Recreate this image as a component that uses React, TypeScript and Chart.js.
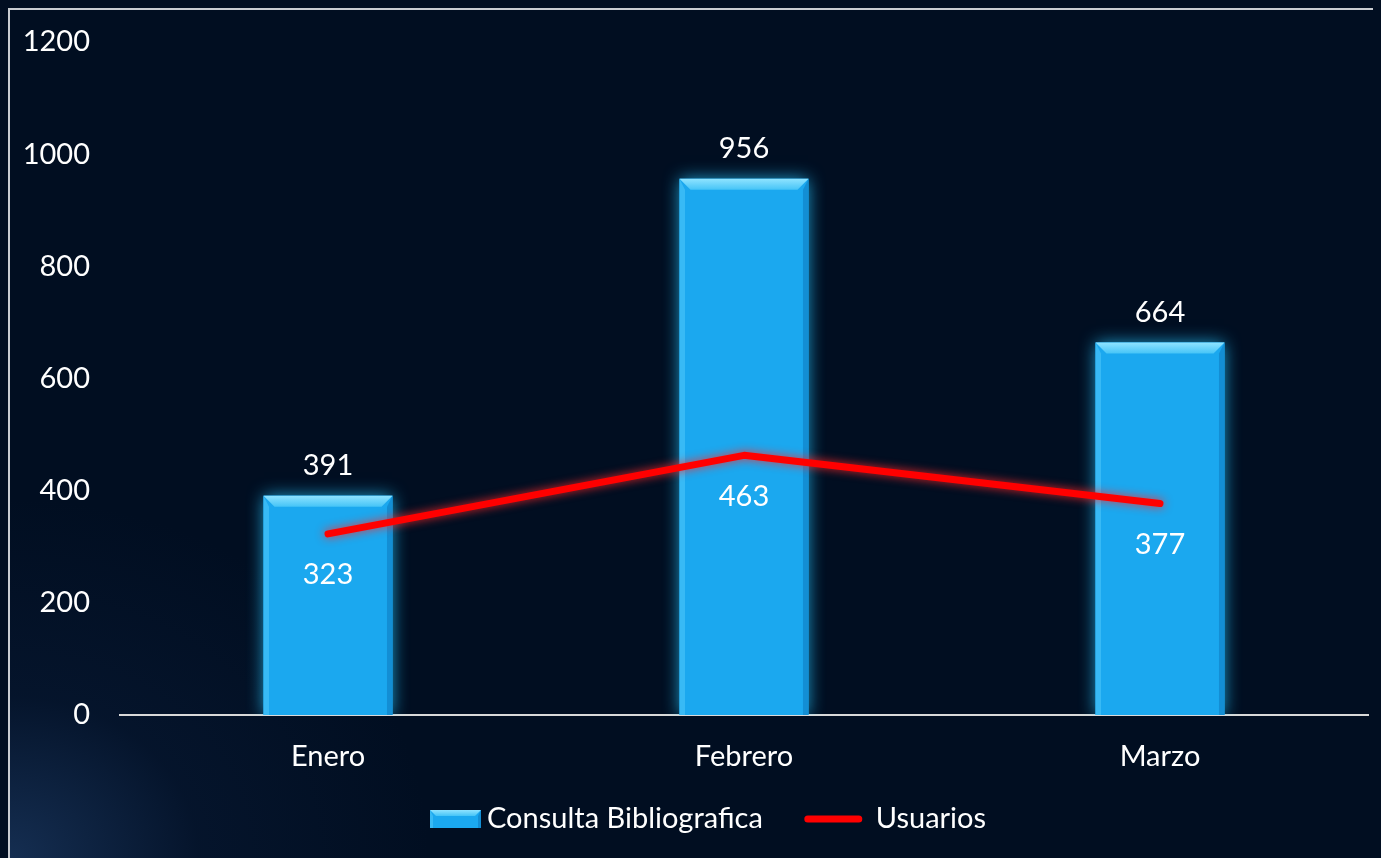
import React, { useEffect, useRef } from "react";
import { Chart, registerables } from "chart.js";

Chart.register(...registerables);

const categories: string[] = ["Enero", "Febrero", "Marzo"];
const consultaValues: number[] = [391, 956, 664];
const usuariosValues: number[] = [323, 463, 377];
const yTicks: number[] = [0, 200, 400, 600, 800, 1000, 1200];
const legendLabels: string[] = ["Consulta Bibliografica", "Usuarios"];

const BAR_COLOR = "#1ba8ef";
const LINE_COLOR = "#ff0000";
const FONT = "Lato";
const FSIZE = 29;

function drawBevelBar(ctx: CanvasRenderingContext2D, left: number, top: number, w: number, h: number, b: number) {
  const right = left + w;
  const bottom = top + h;
  ctx.fillStyle = BAR_COLOR;
  ctx.fillRect(left, top, w, h);
  ctx.beginPath();
  ctx.moveTo(left, top);
  ctx.lineTo(right, top);
  ctx.lineTo(right - b, top + b);
  ctx.lineTo(left + b, top + b);
  ctx.closePath();
  const g = ctx.createLinearGradient(0, top, 0, top + b);
  g.addColorStop(0, "#8fe3ff");
  g.addColorStop(1, "#45c4f7");
  ctx.fillStyle = g;
  ctx.fill();
  ctx.beginPath();
  ctx.moveTo(left, top);
  ctx.lineTo(left + b * 0.5, top + b);
  ctx.lineTo(left + b * 0.5, bottom);
  ctx.lineTo(left, bottom);
  ctx.closePath();
  ctx.fillStyle = "rgba(80,200,250,0.55)";
  ctx.fill();
  ctx.beginPath();
  ctx.moveTo(right, top);
  ctx.lineTo(right - b * 0.5, top + b);
  ctx.lineTo(right - b * 0.5, bottom);
  ctx.lineTo(right, bottom);
  ctx.closePath();
  ctx.fillStyle = "rgba(10,110,180,0.45)";
  ctx.fill();
}

const effectsPlugin = {
  id: "effects",
  beforeDatasetDraw(chart: any, args: any) {
    const ctx = chart.ctx;
    ctx.save();
    if (args.index === 0) {
      ctx.shadowColor = "rgba(40,200,255,0.8)";
      ctx.shadowBlur = 16;
    } else {
      ctx.shadowColor = "rgba(255,40,40,0.9)";
      ctx.shadowBlur = 10;
    }
  },
  afterDatasetDraw(chart: any, args: any) {
    const ctx = chart.ctx;
    ctx.restore();
    if (args.index === 0) {
      const meta = chart.getDatasetMeta(0);
      meta.data.forEach((bar: any) => {
        const w = bar.width;
        const left = bar.x - w / 2;
        const top = Math.min(bar.y, bar.base);
        const h = Math.abs(bar.base - bar.y);
        drawBevelBar(ctx, left, top, w, h, 11);
      });
    }
  },
  afterDatasetsDraw(chart: any) {
    const ctx = chart.ctx;
    ctx.save();
    ctx.fillStyle = "#ffffff";
    ctx.font = `${FSIZE}px ${FONT}`;
    ctx.textAlign = "center";
    ctx.textBaseline = "middle";
    const barMeta = chart.getDatasetMeta(0);
    barMeta.data.forEach((bar: any, i: number) => {
      ctx.fillText(String(consultaValues[i]), bar.x, bar.y - 30);
    });
    const lineMeta = chart.getDatasetMeta(1);
    lineMeta.data.forEach((pt: any, i: number) => {
      ctx.fillText(String(usuariosValues[i]), pt.x, pt.y + 41);
    });
    ctx.restore();
  },
  afterDraw(chart: any) {
    const ctx = chart.ctx;
    ctx.save();
    ctx.font = `${FSIZE}px ${FONT}`;
    ctx.fillStyle = "#ffffff";
    ctx.textAlign = "left";
    ctx.textBaseline = "middle";
    const cy = 809;
    let x = 420;
    drawBevelBar(ctx, x, cy - 9, 51, 18, 6);
    x += 57;
    ctx.fillStyle = "#ffffff";
    ctx.fillText(legendLabels[0], x, cy);
    x += ctx.measureText(legendLabels[0]).width + 42;
    ctx.strokeStyle = LINE_COLOR;
    ctx.lineWidth = 7;
    ctx.lineCap = "round";
    ctx.beginPath();
    ctx.moveTo(x + 3, cy);
    ctx.lineTo(x + 54, cy);
    ctx.stroke();
    x += 71;
    ctx.fillText(legendLabels[1], x, cy);
    ctx.restore();
  },
};

export default function App() {
  const canvasRef = useRef<HTMLCanvasElement | null>(null);

  useEffect(() => {
    document.body.style.background = "#010e21";
    const canvas = canvasRef.current;
    if (!canvas) return;
    const chart = new Chart(canvas, {
      type: "bar",
      data: {
        labels: categories,
        datasets: [
          {
            type: "bar",
            label: legendLabels[0],
            data: consultaValues,
            backgroundColor: BAR_COLOR,
            borderWidth: 0,
            barPercentage: 0.31,
            categoryPercentage: 1,
            order: 2,
          },
          {
            type: "line",
            label: legendLabels[1],
            data: usuariosValues,
            borderColor: LINE_COLOR,
            backgroundColor: LINE_COLOR,
            borderWidth: 7,
            borderCapStyle: "round",
            borderJoinStyle: "round",
            pointRadius: 0,
            tension: 0,
            fill: false,
            order: 1,
          },
        ],
      } as any,
      options: {
        animation: false,
        responsive: false,
        maintainAspectRatio: false,
        layout: { padding: { top: 32, right: 13, bottom: 63, left: 0 } },
        plugins: {
          tooltip: { enabled: false },
          legend: { display: false },
        },
        scales: {
          x: {
            grid: { display: false, drawTicks: false },
            border: { display: true, color: "#d9d9d9", width: 2 },
            ticks: { color: "#ffffff", font: { family: FONT, size: FSIZE }, padding: 24 },
            afterFit: (scale: any) => {
              scale.height = 80;
            },
          },
          y: {
            min: 0,
            max: 1200,
            grid: { display: false, drawTicks: false },
            border: { display: false },
            afterBuildTicks: (scale: any) => {
              scale.ticks = yTicks.map((v) => ({ value: v }));
            },
            ticks: {
              color: "#ffffff",
              font: { family: FONT, size: FSIZE },
              padding: 30,
              callback: (v: any) => String(v),
            },
            afterFit: (scale: any) => {
              scale.width = 110;
              scale.paddingTop = 0;
              scale.paddingBottom = 0;
            },
          },
        },
      } as any,
      plugins: [effectsPlugin],
    });
    return () => chart.destroy();
  }, []);

  return (
    <div
      style={{
        borderTop: "2px solid #c9ccd1",
        borderLeft: "2px solid #c9ccd1",
        width: 1371,
        height: 848,
        background:
          "radial-gradient(ellipse 420px 360px at 0% 100%, rgba(45,85,140,0.45) 0%, rgba(20,45,85,0.2) 45%, rgba(1,14,33,0) 100%), #010e21",
      }}
    >
      <canvas ref={canvasRef} width={1371} height={848} style={{ display: "block" }} />
    </div>
  );
}
